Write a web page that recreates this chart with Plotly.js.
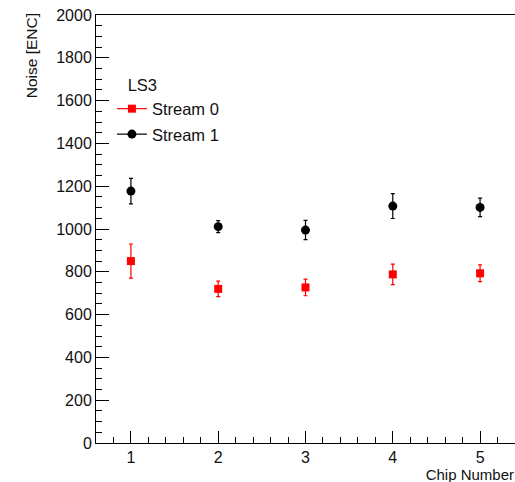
<!DOCTYPE html>
<html>
<head>
<meta charset="utf-8">
<script src="https://cdn.plot.ly/plotly-3.0.1.min.js"></script>
<style>html,body{margin:0;padding:0;background:#fff;}#chart{width:515px;height:482px;}</style>
</head>
<body>
<div id="chart"></div>
<script>
var chips = [1, 2, 3, 4, 5];
var stream0 = [850, 720, 727, 788, 793];
var stream0Err = [80, 36, 39, 48, 39];
var stream1 = [1177, 1011, 995, 1107, 1101];
var stream1Err = [60, 28, 45, 58, 43];

var fam = 'Liberation Sans, Arial, sans-serif';
var font = {family: fam, size: 16.5, color: '#111'};
var tickFont = {family: fam, size: 16, color: '#111'};
var xtFont = {family: fam, size: 15, color: '#111'};
var ytFont = {family: fam, size: 15.5, color: '#111'};

var traces = [
  {x: chips, y: stream0, type: 'scatter', mode: 'markers', showlegend: false,
   marker: {symbol: 'square', size: 8, color: '#ff0000'},
   error_y: {type: 'data', array: stream0Err, visible: true, color: '#ff0000', thickness: 1.2, width: 2}},
  {x: chips, y: stream1, type: 'scatter', mode: 'markers', showlegend: false,
   marker: {symbol: 'circle', size: 9, color: '#000'},
   error_y: {type: 'data', array: stream1Err, visible: true, color: '#000', thickness: 1.2, width: 2}},
  {x: [null], y: [null], type: 'scatter', mode: 'lines+markers', name: 'Stream 0', legendgroup: 'a',
   marker: {symbol: 'square', size: 8, color: '#ff0000'}, line: {color: '#ff0000', width: 1.2}},
  {x: [null], y: [null], type: 'scatter', mode: 'lines+markers', name: 'Stream 1', legendgroup: 'b',
   marker: {symbol: 'circle', size: 9, color: '#000'}, line: {color: '#000', width: 1.2}}
];

var layout = {
  width: 515, height: 482,
  margin: {l: 96, r: 0, t: 15, b: 39},
  paper_bgcolor: '#fff', plot_bgcolor: '#fff',
  font: font,
  showlegend: true,
  legend: {x: 0.038, y: 0.8715, xanchor: 'left', yanchor: 'top', bgcolor: 'rgba(0,0,0,0)',
           traceorder: 'grouped', tracegroupgap: 1,
           title: {text: '\u00a0\u00a0\u00a0LS3', font: font}, font: font, itemwidth: 30},
  xaxis: {
    range: [0.6, 5.4], dtick: 1, tick0: 1, ticks: 'inside', ticklen: 12, tickcolor: '#000', tickwidth: 1,
    showgrid: false, zeroline: false, showline: true, linecolor: '#000', linewidth: 1, mirror: true,
    tickfont: tickFont,
    minor: {dtick: 0.2, tick0: 0, ticks: 'inside', ticklen: 6, tickcolor: '#000', showgrid: false},
    title: {text: 'Chip Number', font: xtFont, standoff: 0}
  },
  yaxis: {
    range: [0, 2000], dtick: 200, tick0: 0, ticks: 'inside', ticklen: 13, tickcolor: '#000', tickwidth: 1,
    showgrid: false, zeroline: false, showline: true, linecolor: '#000', linewidth: 1,
    tickfont: tickFont,
    minor: {dtick: 50, tick0: 0, ticks: 'inside', ticklen: 6, tickcolor: '#000', showgrid: false},
    title: {text: 'Noise [ENC]', font: ytFont}
  }
};

Plotly.newPlot('chart', traces, layout, {displayModeBar: false, staticPlot: true}).then(function(gd){
  var xt = gd.querySelector('.xtitle');
  if (xt) { xt.setAttribute('text-anchor', 'end'); xt.setAttribute('x', 514); xt.setAttribute('y', 477.5); }
  var yt = gd.querySelector('.ytitle');
  if (yt) { yt.setAttribute('text-anchor', 'end'); yt.setAttribute('x', 41); yt.setAttribute('y', 13);
    yt.setAttribute('transform', 'rotate(-90,41,13)'); }
});
</script>
</body>
</html>
